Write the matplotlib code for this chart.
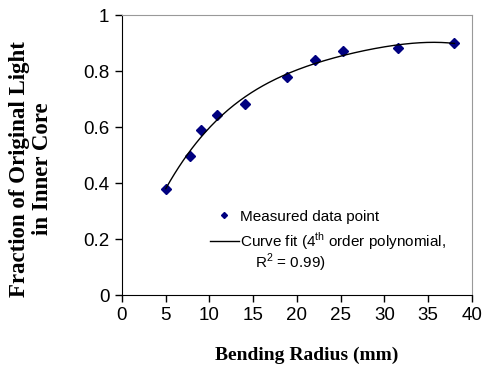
import numpy as np
import matplotlib
matplotlib.use('Agg')
import matplotlib.pyplot as plt

radius = [5.0, 7.8, 9.0, 10.9, 14.1, 18.9, 22.1, 25.3, 31.5, 38.0]
fraction = [0.377, 0.497, 0.589, 0.643, 0.683, 0.777, 0.839, 0.870, 0.881, 0.901]

# 4th order polynomial fit, as in the legend
coef = np.polyfit(radius, fraction, 4)
xfit = np.linspace(min(radius), max(radius), 200)
yfit = np.polyval(coef, xfit)

plt.rcParams['font.family'] = ['Liberation Sans', 'DejaVu Sans']

fig = plt.figure(figsize=(4.85, 3.83), dpi=100)
ax = fig.add_axes([122 / 485, 1 - 295 / 383, 350 / 485, 280 / 383])

ax.plot(radius, fraction, linestyle='none', marker='D', markersize=5.5,
        color='#000080', label='Measured data point')
ax.plot(xfit, yfit, color='black', linewidth=1.0,
        label='Curve fit (4$^{\\mathregular{th}}$ order polynomial,')

ax.set_xlim(0, 40)
ax.set_ylim(0, 1)
ax.set_xticks(np.arange(0, 41, 5))
ax.set_yticks([0, 0.2, 0.4, 0.6, 0.8, 1])
ax.set_yticklabels(['0', '0.2', '0.4', '0.6', '0.8', '1'])
ax.tick_params(direction='out', length=5, width=1, labelsize=13.5, pad=4)

for s in ['top', 'right']:
    ax.spines[s].set_color('#999999')
for s in ['left', 'bottom']:
    ax.spines[s].set_color('black')

ax.set_xlabel('Bending Radius (mm)', family=['Liberation Serif'], fontweight='bold',
              fontsize=14)
ax.xaxis.set_label_coords(0.529, -0.183)
ax.set_ylabel('Fraction of Original Light\nin Inner Core', family=['Liberation Serif'],
              fontweight='bold', fontsize=16.5, linespacing=1.1)
ax.yaxis.set_label_coords(-0.197, 0.45)

leg = ax.legend(loc='upper left', bbox_to_anchor=(0.251, 0.305), frameon=False, fontsize=11,
                handlelength=1.9, handletextpad=0.1, labelspacing=0.45, markerscale=0.55,
                borderpad=0, borderaxespad=0)
ax.text(0.38, 0.115, 'R$^{\\mathregular{2}}$ = 0.99)', transform=ax.transAxes,
        fontsize=11, va='center', ha='left')

fig.savefig('out.png', dpi=100)
